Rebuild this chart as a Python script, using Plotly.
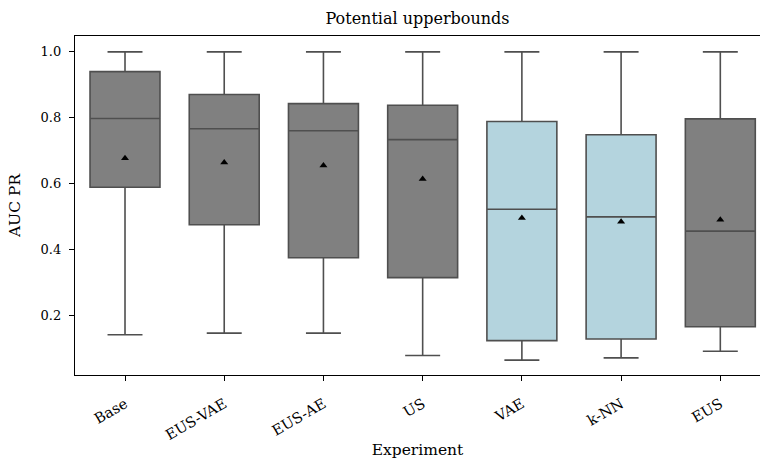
import plotly.graph_objects as go

categories = ["Base", "EUS-VAE", "EUS-AE", "US", "VAE", "k-NN", "EUS"]
lower = [0.143, 0.148, 0.148, 0.080, 0.066, 0.073, 0.093]
q1 = [0.590, 0.476, 0.376, 0.316, 0.125, 0.130, 0.167]
median = [0.798, 0.767, 0.761, 0.734, 0.523, 0.500, 0.457]
q3 = [0.940, 0.871, 0.843, 0.838, 0.789, 0.749, 0.797]
upper = [1.0, 1.0, 1.0, 1.0, 1.0, 1.0, 1.0]
mean = [0.678, 0.665, 0.656, 0.615, 0.497, 0.485, 0.491]
group = ["gray", "gray", "gray", "gray", "blue", "blue", "gray"]

colors = {"gray": "#808080", "blue": "#b4d4de"}
line_color = "#4f4f4f"
font_family = "DejaVu Serif, Liberation Serif, serif"

fig = go.Figure()
for i, c in enumerate(categories):
    fig.add_trace(go.Box(
        x=[c], q1=[q1[i]], median=[median[i]], q3=[q3[i]],
        lowerfence=[lower[i]], upperfence=[upper[i]],
        fillcolor=colors[group[i]],
        line=dict(color=line_color, width=1.6),
        width=0.705, whiskerwidth=0.5,
        showlegend=False, hoverinfo="skip",
    ))

fig.add_trace(go.Scatter(
    x=categories, y=mean, mode="markers",
    marker=dict(symbol="triangle-up", size=7, color="black"),
    showlegend=False, hoverinfo="skip",
))

fig.update_layout(
    width=760, height=464,
    margin=dict(l=75, r=0, t=36, b=89),
    paper_bgcolor="white", plot_bgcolor="white",
    boxmode="overlay",
    font=dict(family=font_family, size=15, color="black"),
    title=dict(text="Potential upperbounds", x=(75 + 760) / 2 / 760, xanchor="center",
               y=1 - 18 / 464, yanchor="middle", font=dict(size=16)),
)
fig.update_xaxes(
    type="category", range=[-0.504, 6.40],
    showline=True, linecolor="black", linewidth=1.25, mirror=True,
    ticks="outside", ticklen=5, tickwidth=1.25, tickcolor="black",
    tickangle=-30, tickfont=dict(size=14.5), ticklabelstandoff=9,
    showgrid=False, zeroline=False,
    title=dict(text="Experiment", font=dict(size=15.5), standoff=2),
)
fig.update_yaxes(
    range=[0.021, 1.048],
    tickvals=[0.2, 0.4, 0.6, 0.8, 1.0], tickformat=".1f",
    showline=True, linecolor="black", linewidth=1.25,
    ticks="outside", ticklen=5, tickwidth=1.25, tickcolor="black",
    tickfont=dict(size=13), ticklabelstandoff=5,
    showgrid=False, zeroline=False,
    title=dict(text="AUC PR", font=dict(size=15.5), standoff=16),
)

fig.write_html("out.html")
